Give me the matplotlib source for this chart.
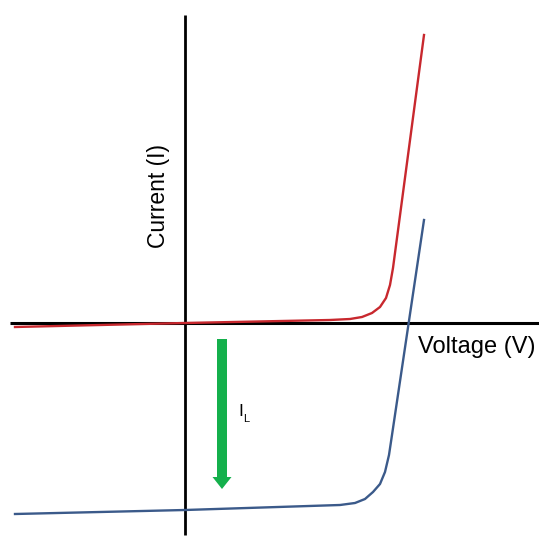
import matplotlib as mpl
mpl.use('Agg')
import matplotlib.pyplot as plt
from matplotlib.patches import FancyArrow

plt.rcParams['font.family'] = ['Liberation Sans', 'DejaVu Sans']

# dark curve (red) and illuminated curve (blue), arbitrary units
dark_v = [-1.70, 0.00, 1.45, 1.65, 1.77, 1.87, 1.95, 2.01, 2.05, 2.08, 2.39]
dark_i = [-0.04, 0.00, 0.03, 0.04, 0.06, 0.10, 0.16, 0.25, 0.38, 0.55, 2.88]
light_v = [-1.70, 0.00, 1.55, 1.70, 1.80, 1.88, 1.95, 2.00, 2.04, 2.07, 2.39]
light_i = [-1.91, -1.87, -1.82, -1.80, -1.76, -1.69, -1.61, -1.49, -1.32, -1.12, 1.03]

fig = plt.figure(figsize=(5.39, 5.38), dpi=100)
ax = fig.add_axes([0, 0, 1, 1])
ax.set_xlim(-1.85, 3.54)
ax.set_ylim(-2.15, 3.23)
ax.axis('off')

# axes lines
ax.plot([-1.75, 3.55], [0, 0], color='black', lw=2.2, solid_capstyle='butt')
ax.plot([0, 0], [-2.12, 3.08], color='black', lw=2.0, solid_capstyle='butt')

ax.plot(dark_v, dark_i, color='#c8282e', lw=1.7, zorder=3)
ax.plot(light_v, light_i, color='#3b5a8a', lw=1.7, zorder=3)

ax.add_patch(FancyArrow(0.37, -0.16, 0, -1.38, width=0.10, head_width=0.19,
                        head_length=0.12, length_includes_head=False,
                        color='#14b04c', lw=0))

ax.text(0.53, -0.885, 'I', fontsize=12.5, ha='left', va='center')
ax.text(0.585, -0.96, 'L', fontsize=8, ha='left', va='center')

ax.text(-0.265, 1.27, 'Current (I)', fontsize=16.5, rotation=90,
        ha='center', va='center')
ax.text(3.50, -0.30, 'Voltage (V)', fontsize=17, ha='right', va='baseline')

fig.savefig('out.png', dpi=100)
